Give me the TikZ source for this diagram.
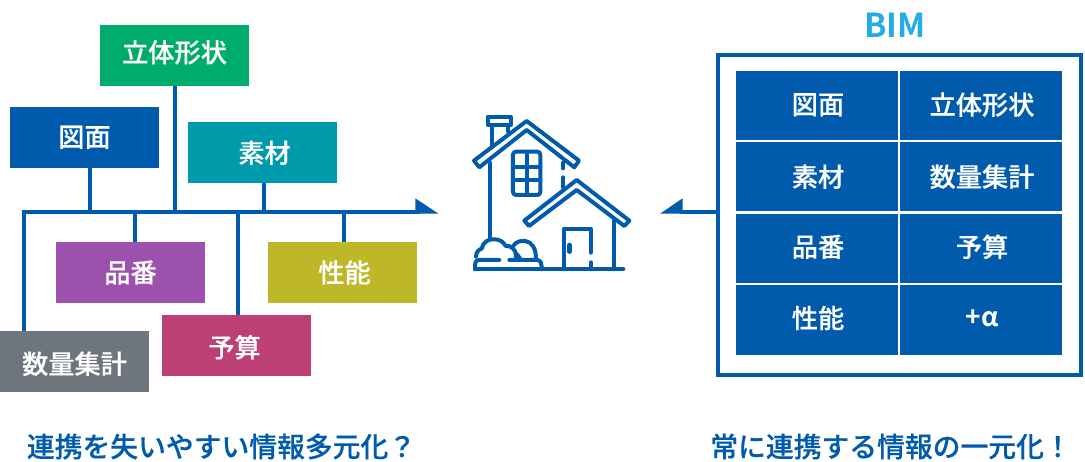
\documentclass[tikz,border=0pt]{standalone}
\usepackage{fontspec}
\usetikzlibrary{backgrounds}
\setmainfont{Noto Sans CJK JP Medium}[FakeBold=0.35,BoldFont={Noto Sans CJK JP Bold},BoldFeatures={FakeBold=0}]
\definecolor{bl}{HTML}{005BAC}
\definecolor{sky}{HTML}{22ADE6}
\definecolor{cgreen}{HTML}{00AC6C}
\definecolor{cteal}{HTML}{009AAD}
\definecolor{cpurple}{HTML}{9C52AC}
\definecolor{colive}{HTML}{BEB728}
\definecolor{cpink}{HTML}{BC4075}
\definecolor{cgray}{HTML}{6E757C}
\tikzset{
  box/.style={minimum width=149pt,minimum height=61pt,inner sep=0pt},
  cell/.style={fill=bl,minimum width=162pt,minimum height=69.5pt,inner sep=0pt},
  tx/.style={text=white,inner sep=0pt,font=\fontsize{26.2}{30}\selectfont},
  link/.style={draw=bl,line width=4pt},
  tip/.style={fill=bl,draw=none},
  caption/.style={text=bl,inner sep=0pt,font=\fontsize{27.8}{30}\selectfont},
  hs/.style={draw=bl,line width=4pt,line cap=round,line join=round},
}
\begin{document}
\begin{tikzpicture}[x=1pt,y=-1pt]
\useasboundingbox (0,0) rectangle (1085,462);
% backbone
\coordinate (bbs) at (21.5,211.7);
\coordinate (bbe) at (420,211.7);
\coordinate (tipA) at (415.3,198.3);
\coordinate (tipB) at (438.5,213.7);
\coordinate (tipC) at (415.3,213.7);
% left boxes
\node[box,fill=cgreen,label={[tx,yshift=3pt]center:立体形状}] (rittai) at (174.5,55.3) {};
\node[box,fill=bl,label={[tx]center:図面}] (zumen) at (84.5,137.3) {};
\node[box,fill=cteal,label={[tx,xshift=2pt]center:素材}] (sozai) at (262.5,152.8) {};
\node[box,fill=cpurple,label={[tx]center:品番}] (hinban) at (130.5,272.5) {};
\node[box,fill=colive,label={[tx,xshift=2pt]center:性能}] (seino) at (342.5,272.5) {};
\node[box,fill=cpink,label={[tx,xshift=-2pt,yshift=-2pt]center:予算}] (yosan) at (236.5,345.3) {};
\node[box,fill=cgray,label={[tx,yshift=-2pt]center:数量集計}] (suryo) at (74.5,361.8) {};
\begin{scope}[on background layer]
\draw[link] (bbs) -- (bbe);
\foreach \n/\x in {zumen/90,rittai/174.5,sozai/264,hinban/134.7,yosan/237.7,seino/344}{
  \coordinate (j\n) at (\x,211.7);
  \draw[link] (j\n) -- (j\n |- \n.center);
}
\coordinate (jsuryo) at (23.5,210);
\draw[link] (jsuryo) -- (jsuryo |- suryo.center);
\end{scope}
\fill[tip] (tipA) -- (tipB) -- (tipC) -- cycle;
% right frame
\node[draw=bl,line width=4pt,minimum width=363pt,minimum height=320pt,inner sep=0pt] (frame) at (899.5,215) {};
\node[text=sky,inner sep=0pt,font=\fontsize{33}{34}\selectfont\bfseries] (bim) at (895,25) {BIM};
\node[cell,label={[tx,xshift=1pt,yshift=1pt]center:図面}] (a1) at (817,105.7) {};
\node[cell,label={[tx,xshift=1pt,yshift=1pt]center:立体形状}] (b1) at (981,105.7) {};
\node[cell,label={[tx,xshift=1pt]center:素材}] (a2) at (817,176.7) {};
\node[cell,label={[tx,xshift=1pt]center:数量集計}] (b2) at (981,176.7) {};
\node[cell,label={[tx,xshift=1pt,yshift=1.5pt]center:品番}] (a3) at (817,248.3) {};
\node[cell,label={[tx,xshift=1pt,yshift=1.5pt]center:予算}] (b3) at (981,248.3) {};
\node[cell,label={[tx,xshift=1pt,yshift=2pt]center:性能}] (a4) at (817,320) {};
\node[cell,label={[tx,xshift=1pt,yshift=2pt,font=\fontsize{26.2}{30}\selectfont\bfseries]center:+α}] (b4) at (981,320) {};
% left arrow
\coordinate (lj) at (680,212);
\coordinate (lA) at (682.7,198.3);
\coordinate (lB) at (660,213.7);
\coordinate (lC) at (682.7,213.7);
\draw[link] (frame.west |- lj) -- (lj);
\fill[tip] (lA) -- (lB) -- (lC) -- cycle;
% house
\begin{scope}[shift={(440,90)},x=0.3333pt,y=-0.3333pt,hs]
\draw[hs] (260,93) -- (417,212) -- (403,232) -- (260,120) -- (118,232) -- (102,212) -- cycle;
\draw[hs] (410,270) -- (568,392) -- (553,408) -- (410,300) -- (267,408) -- (253,392) -- cycle;
\draw[hs] (143,80) -- (212,80) -- (212,105) -- (143,105) -- cycle;
\draw[hs] (155,105) -- (155,165);
\draw[hs] (205,105) -- (205,125);
\draw[hs] (150,218) -- (150,445);
\draw[hs] (370,218) -- (370,235);
\draw[hs] (370,262) -- (370,292);
\draw[hs,rounded corners=3pt] (219,185) rectangle (301,315);
\draw[hs] (260,185) -- (260,315);
\draw[hs] (219,230) -- (301,230);
\draw[hs] (219,271) -- (301,271);
\draw[hs] (521,388) -- (521,538);
\draw[hs] (105,538) -- (550,538);
\draw[hs] (372,538) -- (372,416) -- (452,416) -- (452,488);
\draw[hs] (452,517) -- (452,538);
\draw[hs,line width=4.5pt] (388,465) -- (388,485);
\draw[hs] (178,510) -- (118,510) .. controls (105,510) and (105,520) .. (105,538);
\draw[hs] (208,510) -- (290,510) .. controls (303,510) and (305,520) .. (305,538);
\draw[hs] (108,500) .. controls (108,485) and (118,478) .. (125,476) .. controls (128,455) and (150,445) .. (165,448) .. controls (180,448) and (192,458) .. (197,468) .. controls (210,465) and (228,478) .. (228,495) -- (228,505);
\draw[hs] (218,470) .. controls (228,453) and (245,452) .. (255,453) .. controls (275,455) and (288,475) .. (288,505);
\draw[hs] (228,490) -- (240,505);
\end{scope}
% captions
\node[caption] (cap1) at (221.5,446.5) {連携を失いやすい情報多元化？};
\node[caption] (cap2) at (891,446.5) {常に連携する情報の一元化！};
\end{tikzpicture}
\end{document}
